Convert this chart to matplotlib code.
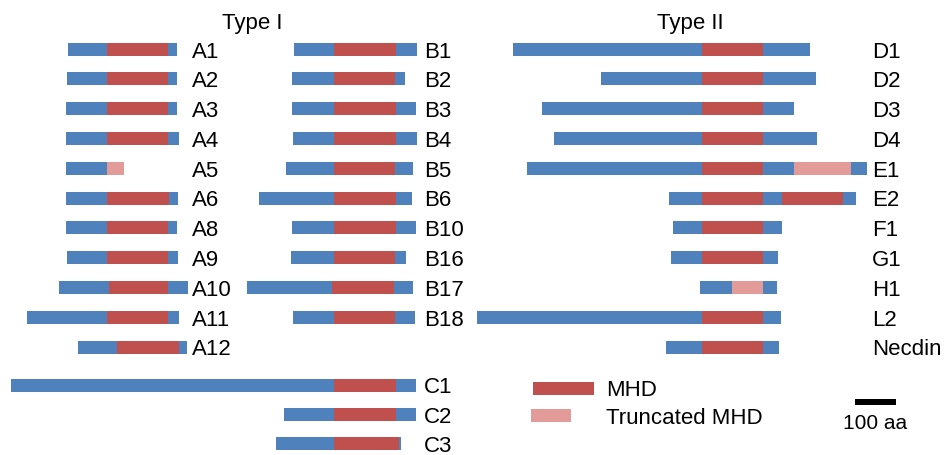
import matplotlib.pyplot as plt

plt.rcParams['font.family'] = ['Liberation Sans', 'DejaVu Sans']

BLUE = '#4f81bd'
RED = '#c0504d'
PINK = '#e39b99'
COLORS = {'b': BLUE, 'm': RED, 't': PINK}

# segment lengths in aa  (b = outside MHD, m = MHD, t = truncated MHD)
# shift = where the first MHD segment starts relative to the aligned MHD line (aa)
a_names = ['A1', 'A2', 'A3', 'A4', 'A5', 'A6', 'A8', 'A9', 'A10', 'A11', 'A12']
a_segs = [
    [('b', 95), ('m', 149), ('b', 22)],
    [('b', 98), ('m', 149), ('b', 22)],
    [('b', 100), ('m', 149), ('b', 22)],
    [('b', 100), ('m', 149), ('b', 27)],
    [('b', 100), ('t', 41)],
    [('b', 100), ('m', 151), ('b', 22)],
    [('b', 100), ('m', 149), ('b', 22)],
    [('b', 98), ('m', 149), ('b', 24)],
    [('b', 122), ('m', 144), ('b', 49)],
    [('b', 195), ('m', 149), ('b', 27)],
    [('b', 95), ('m', 151), ('b', 20)],
]
a_shift = [0, 0, 0, 0, 0, 0, 0, 0, 5, 0, 24]

b_names = ['B1', 'B2', 'B3', 'B4', 'B5', 'B6', 'B10', 'B16', 'B17', 'B18']
b_segs = [
    [('b', 98), ('m', 151), ('b', 51)],
    [('b', 102), ('m', 149), ('b', 24)],
    [('b', 102), ('m', 151), ('b', 49)],
    [('b', 100), ('m', 151), ('b', 51)],
    [('b', 117), ('m', 149), ('b', 44)],
    [('b', 183), ('m', 151), ('b', 39)],
    [('b', 102), ('m', 151), ('b', 49)],
    [('b', 105), ('m', 149), ('b', 27)],
    [('b', 207), ('m', 151), ('b', 46)],
    [('b', 100), ('m', 149), ('b', 49)],
]
b_shift = [0, 0, 0, 0, 0, 0, 0, 0, -5, 0]

c_names = ['C1', 'C2', 'C3']
c_segs = [
    [('b', 788), ('m', 151), ('b', 49)],
    [('b', 122), ('m', 151), ('b', 49)],
    [('b', 141), ('m', 159), ('b', 5)],
]
c_shift = [0, 0, 0]

d_names = ['D1', 'D2', 'D3', 'D4', 'E1', 'E2', 'F1', 'G1', 'H1', 'L2', 'Necdin']
d_segs = [
    [('b', 461), ('m', 149), ('b', 115)],
    [('b', 246), ('m', 149), ('b', 129)],
    [('b', 390), ('m', 149), ('b', 76)],
    [('b', 361), ('m', 149), ('b', 132)],
    [('b', 427), ('m', 149), ('b', 76), ('t', 139), ('b', 39)],
    [('b', 80), ('m', 149), ('b', 46), ('m', 149), ('b', 32)],
    [('b', 71), ('m', 149), ('b', 46)],
    [('b', 76), ('m', 149), ('b', 37)],
    [('b', 78), ('t', 76), ('b', 34)],
    [('b', 549), ('m', 149), ('b', 44)],
    [('b', 88), ('m', 149), ('b', 39)],
]
d_shift = [0, 0, 0, 0, 0, 0, 0, 0, 73, 0, 0]

scale_aa = 100

PPA = 0.41   # pixels per aa
BAR_H = 13
FS = 16

fig = plt.figure(figsize=(9.49, 4.56), dpi=100)
ax = fig.add_axes([0, 0, 1, 1])
ax.set_xlim(0, 949)
ax.set_ylim(456, 0)
ax.axis('off')


def draw_column(names, segs, shifts, anchor, label_x, y0, dy):
    for i, (name, sg, sh) in enumerate(zip(names, segs, shifts)):
        y = y0 + i * dy
        # N-terminal part sits before the first MHD segment
        pre = 0
        for kind, n in sg:
            if kind in 'mt':
                break
            pre += n
        x = anchor + (sh - pre) * PPA
        for kind, n in sg:
            ax.barh(y, n * PPA, left=x, height=BAR_H, color=COLORS[kind], lw=0)
            x += n * PPA
        ax.text(label_x, y + 7.5, name, fontsize=FS, va='baseline', ha='left')


draw_column(a_names, a_segs, a_shift, 107, 192, 50, 29.8)
draw_column(b_names, b_segs, b_shift, 334, 424, 50, 29.8)
draw_column(c_names, c_segs, c_shift, 334, 424, 386, 29.5)
draw_column(d_names, d_segs, d_shift, 702, 872, 50, 29.8)

ax.text(252, 29, 'Type I', fontsize=FS, ha='center', va='baseline')
ax.text(690, 29, 'Type II', fontsize=FS, ha='center', va='baseline')

# legend
ax.barh(389, 61, left=533, height=BAR_H, color=RED, lw=0)
ax.barh(417, 40, left=531, height=BAR_H, color=PINK, lw=0)
ax.text(606, 396.5, 'MHD', fontsize=FS, va='baseline')
ax.text(606, 424.5, 'Truncated MHD', fontsize=FS, va='baseline')

# scale bar
ax.barh(403, scale_aa * PPA, left=855, height=6, color='black', lw=0)
ax.text(875, 429, '100 aa', fontsize=15, ha='center', va='baseline')

fig.savefig('out.png', dpi=100)
